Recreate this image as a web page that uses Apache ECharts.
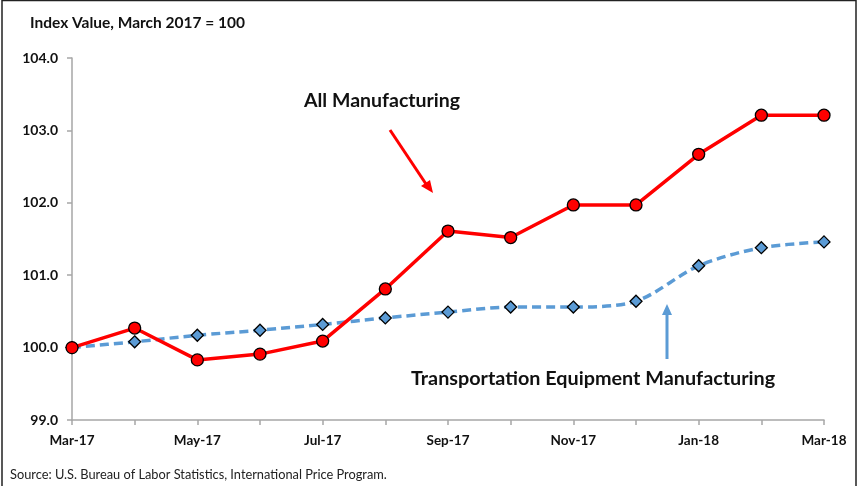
<!DOCTYPE html>
<html>
<head>
<meta charset="utf-8">
<script src="https://cdn.jsdelivr.net/npm/echarts@6/dist/echarts.min.js"></script>
<style>
  html, body { margin: 0; padding: 0; background: #fff; }
  #chart { width: 862px; height: 486px; }
</style>
</head>
<body>
<div id="chart"></div>
<script>
// Monthly index values, March 2017 = 100
const months = ['Mar-17', 'Apr-17', 'May-17', 'Jun-17', 'Jul-17', 'Aug-17', 'Sep-17',
                'Oct-17', 'Nov-17', 'Dec-17', 'Jan-18', 'Feb-18', 'Mar-18'];
const allManufacturing = [100.0, 100.27, 99.83, 99.91, 100.09, 100.81, 101.61,
                          101.52, 101.97, 101.97, 102.67, 103.21, 103.21];
const transportEquipment = [100.0, 100.08, 100.17, 100.24, 100.32, 100.41, 100.49,
                            100.56, 100.56, 100.64, 101.13, 101.38, 101.46];
const yMin = 99, yMax = 104, yStep = 1;

const FONT = 'Lato, "Open Sans", sans-serif';
const chart = echarts.init(document.getElementById('chart'));

chart.setOption({
  animation: false,
  backgroundColor: '#fff',
  textStyle: { fontFamily: FONT },
  title: {
    text: 'Index Value, March 2017 = 100',
    left: 25, top: 10,
    textStyle: { fontFamily: FONT, fontWeight: 'bold', fontSize: 15.5, color: '#111' }
  },
  grid: { left: 72, right: 38, top: 58, bottom: 66 },
  xAxis: {
    type: 'category',
    data: months,
    boundaryGap: false,
    axisLine: { lineStyle: { color: '#a6a6a6', width: 1.5 } },
    axisTick: { show: true, interval: 0, length: 5, lineStyle: { color: '#a6a6a6', width: 1.5 } },
    axisLabel: {
      interval: 1, margin: 14,
      fontFamily: FONT, fontWeight: 'bold', fontSize: 13.5, color: '#111'
    },
    splitLine: { show: false }
  },
  yAxis: {
    type: 'value',
    min: yMin, max: yMax, interval: yStep,
    axisLine: { show: true, lineStyle: { color: '#a6a6a6', width: 1.5 } },
    axisTick: { show: true, length: 5, lineStyle: { color: '#a6a6a6', width: 1.5 } },
    axisLabel: {
      margin: 14,
      fontFamily: FONT, fontWeight: 'bold', fontSize: 14, color: '#111',
      formatter: v => v.toFixed(1)
    },
    splitLine: { show: false }
  },
  series: [
    {
      name: 'Transportation Equipment Manufacturing',
      type: 'line',
      data: transportEquipment,
      smooth: 0.3,
      symbol: 'diamond',
      symbolSize: 12,
      z: 2,
      lineStyle: { color: '#5b9bd5', width: 3.5, type: [9, 5] },
      itemStyle: { color: '#5b9bd5', borderColor: '#000', borderWidth: 1.3 }
    },
    {
      name: 'All Manufacturing',
      type: 'line',
      data: allManufacturing,
      symbol: 'circle',
      symbolSize: 12,
      z: 3,
      lineStyle: { color: '#ff0000', width: 3.5 },
      itemStyle: { color: '#ff0000', borderColor: '#000', borderWidth: 1.3 }
    }
  ],
  graphic: [
    // outer frame
    {
      type: 'rect', silent: true,
      shape: { x: 2, y: 0.5, width: 854, height: 500 },
      style: { fill: 'none', stroke: '#222', lineWidth: 1.5 }
    },
    {
      type: 'text', left: 304, top: 91,
      style: { text: 'All Manufacturing', fontFamily: FONT, fontWeight: 'bold', fontSize: 19.5, fill: '#111' }
    },
    {
      type: 'text', left: 411, top: 369,
      style: { text: 'Transportation Equipment Manufacturing', fontFamily: FONT, fontWeight: 'bold', fontSize: 19.8, fill: '#111' }
    },
    // red pointer
    {
      type: 'line',
      shape: { x1: 390, y1: 130, x2: 426, y2: 184 },
      style: { stroke: '#ff0000', lineWidth: 3 }
    },
    {
      type: 'polygon',
      shape: { points: [[433, 193], [421, 186], [430, 180]] },
      style: { fill: '#ff0000' }
    },
    // blue pointer
    {
      type: 'line',
      shape: { x1: 667, y1: 359, x2: 667, y2: 313 },
      style: { stroke: '#5b9bd5', lineWidth: 3 }
    },
    {
      type: 'polygon',
      shape: { points: [[667, 304], [662, 315], [672, 315]] },
      style: { fill: '#5b9bd5' }
    },
    {
      type: 'text', left: 10, top: 468,
      style: { text: 'Source: U.S. Bureau of Labor Statistics, International Price Program.', fontFamily: FONT, fontSize: 12.8, fill: '#222' }
    }
  ]
});
</script>
</body>
</html>
